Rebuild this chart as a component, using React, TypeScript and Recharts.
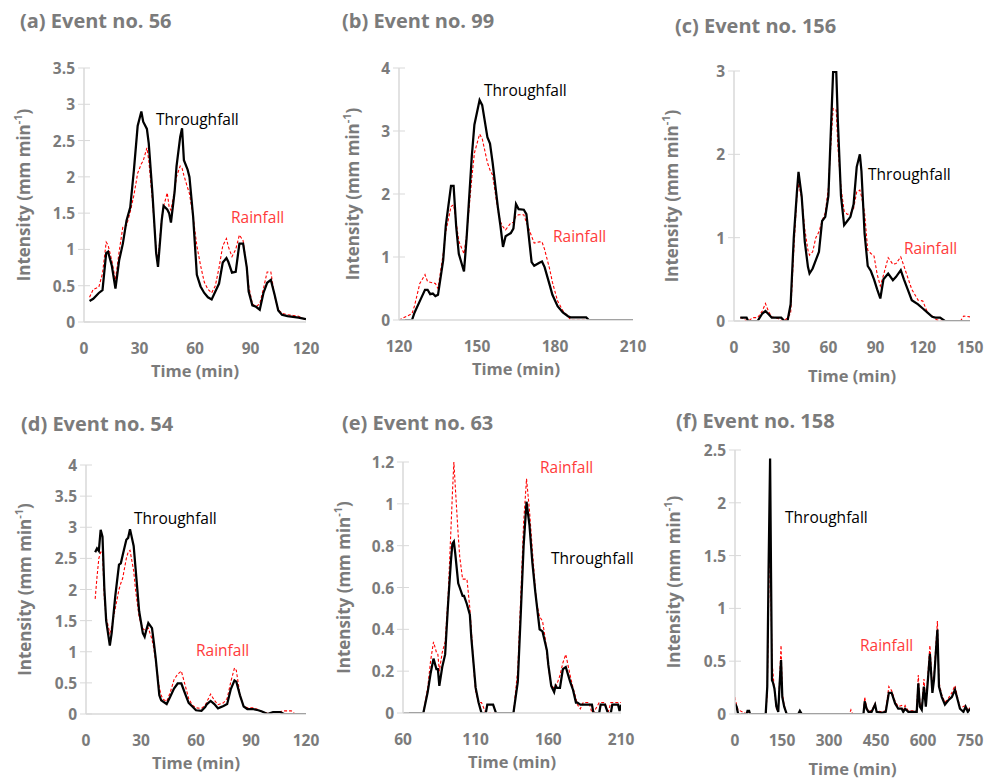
import React from "react"
import { LineChart, Line, XAxis, YAxis } from "recharts"

// (a) Event no. 56
const timeA = [3, 5, 8, 10, 12, 13, 15, 17, 19, 21, 23, 25, 27, 29, 31, 32, 34, 35, 37, 39, 40, 42, 43, 45, 46, 47, 49, 50, 52, 53, 54, 56, 57, 59, 61, 63, 65, 67, 69, 71, 73, 75, 77, 78, 80, 82, 84, 86, 88, 89, 91, 93, 95, 97, 99, 101, 103, 105, 107, 110, 113, 116, 118, 120]
const throughA = [0.29, 0.32, 0.4, 0.44, 0.95, 0.97, 0.78, 0.46, 0.85, 1.08, 1.4, 1.58, 2.1, 2.7, 2.9, 2.76, 2.66, 2.46, 1.77, 0.95, 0.76, 1.4, 1.6, 1.55, 1.5, 1.37, 1.8, 2.14, 2.55, 2.67, 2.23, 2.1, 2.0, 1.45, 0.65, 0.49, 0.4, 0.34, 0.31, 0.42, 0.53, 0.82, 0.88, 0.83, 0.68, 0.69, 1.08, 1.08, 0.75, 0.42, 0.23, 0.21, 0.17, 0.4, 0.54, 0.58, 0.38, 0.16, 0.1, 0.08, 0.07, 0.06, 0.05, 0.04]
const rainA = [0.34, 0.45, 0.48, 0.67, 1.1, 1.06, 0.85, 0.58, 0.97, 1.31, 1.33, 1.52, 1.75, 2.05, 2.18, 2.22, 2.4, 2.23, 1.68, 1.0, 0.85, 1.42, 1.59, 1.78, 1.59, 1.54, 1.82, 2.0, 2.15, 2.12, 2.02, 1.85, 1.77, 1.45, 1.05, 0.78, 0.55, 0.45, 0.4, 0.5, 0.75, 1.05, 1.15, 1.04, 0.9, 1.0, 1.2, 1.12, 0.75, 0.5, 0.25, 0.21, 0.25, 0.46, 0.69, 0.69, 0.36, 0.17, 0.12, 0.1, 0.09, 0.08, 0.05, 0.04]

// (b) Event no. 99
const timeB = [120, 125, 126, 128, 130, 131, 132, 133, 134, 135, 137, 138, 140, 141, 142, 143, 145, 146, 148, 149, 151, 152, 154, 155, 156, 158, 159, 160, 161, 163, 164, 165, 166, 168, 169, 171, 172, 174, 175, 176, 178, 179, 181, 183, 185, 186, 188, 190, 192, 193, 200, 210]
const throughB = [0, 0, 0.12, 0.3, 0.48, 0.48, 0.41, 0.42, 0.38, 0.4, 0.95, 1.5, 2.13, 2.13, 1.48, 1.05, 0.77, 1.3, 2.6, 3.1, 3.49, 3.41, 2.9, 2.8, 2.5, 1.8, 1.5, 1.16, 1.33, 1.38, 1.45, 1.84, 1.76, 1.75, 1.68, 0.92, 0.86, 0.91, 0.93, 0.84, 0.55, 0.4, 0.22, 0.12, 0.06, 0.04, 0.04, 0.04, 0.04, 0, 0, 0]
const rainB = [0, 0.1, 0.23, 0.58, 0.72, 0.61, 0.6, 0.59, 0.58, 0.5, 1.05, 1.4, 1.8, 1.83, 1.55, 1.25, 1.05, 1.35, 2.25, 2.65, 2.95, 2.88, 2.5, 2.38, 2.3, 1.75, 1.56, 1.48, 1.43, 1.54, 1.55, 1.65, 1.67, 1.67, 1.55, 1.33, 1.22, 1.24, 1.24, 1.12, 0.8, 0.6, 0.3, 0.15, 0.06, 0, 0, 0, 0, 0, 0, 0]

// (c) Event no. 156
const timeC = [4, 5, 8, 9, 12, 15, 18, 20, 22, 24, 28, 30, 32, 34, 36, 38, 40, 41, 43, 45, 47, 48, 50, 52, 54, 56, 58, 60, 61, 63, 65, 66, 68, 70, 72, 74, 76, 78, 80, 81, 83, 85, 87, 89, 91, 93, 95, 98, 101, 103, 106, 108, 111, 113, 117, 120, 123, 126, 128, 131, 134, 140, 144, 146, 150]
const throughC = [0.04, 0.04, 0.04, 0, 0, 0, 0.09, 0.12, 0.08, 0.04, 0.04, 0.04, 0, 0, 0.2, 1.0, 1.55, 1.79, 1.5, 0.95, 0.65, 0.57, 0.63, 0.73, 0.83, 1.2, 1.25, 1.5, 2.0, 2.99, 2.99, 2.4, 1.5, 1.15, 1.2, 1.25, 1.4, 1.85, 2.0, 1.8, 1.05, 0.66, 0.6, 0.5, 0.38, 0.27, 0.5, 0.57, 0.49, 0.53, 0.61, 0.5, 0.35, 0.25, 0.2, 0.15, 0.1, 0.05, 0.04, 0.04, 0, 0, 0, 0, 0]
const rainC = [0.04, 0.04, 0, 0, 0.04, 0.04, 0.12, 0.21, 0.11, 0.05, 0.03, 0, 0, 0.04, 0.09, 0.85, 1.5, 1.65, 1.48, 1.1, 0.85, 0.79, 0.83, 1.0, 1.07, 1.2, 1.3, 1.6, 1.95, 2.55, 2.53, 2.1, 1.6, 1.32, 1.28, 1.29, 1.35, 1.55, 1.57, 1.5, 1.3, 0.85, 0.81, 0.78, 0.56, 0.42, 0.55, 0.76, 0.68, 0.69, 0.77, 0.66, 0.49, 0.38, 0.25, 0.24, 0.1, 0.06, 0.02, 0, 0, 0, 0, 0.06, 0.05]

// (d) Event no. 54
const timeD = [5, 6, 7, 8, 9, 10, 11, 13, 14, 16, 18, 19, 20, 22, 23, 24, 26, 27, 29, 31, 32, 33, 34, 36, 37, 38, 40, 41, 42, 44, 46, 48, 50, 52, 54, 56, 58, 60, 63, 65, 66, 68, 70, 72, 75, 77, 79, 81, 82, 84, 86, 88, 91, 94, 96, 99, 102, 106, 108, 110, 112, 114, 120]
const throughD = [2.6, 2.66, 2.62, 2.96, 2.85, 2.02, 1.5, 1.1, 1.3, 1.9, 2.4, 2.42, 2.55, 2.8, 2.83, 2.97, 2.7, 2.35, 1.65, 1.3, 1.24, 1.36, 1.46, 1.38, 1.15, 0.9, 0.3, 0.22, 0.2, 0.16, 0.28, 0.41, 0.49, 0.49, 0.33, 0.18, 0.12, 0.06, 0.05, 0.11, 0.16, 0.21, 0.16, 0.09, 0.13, 0.16, 0.4, 0.54, 0.52, 0.3, 0.12, 0.08, 0.08, 0.06, 0.04, 0, 0.03, 0.03, 0, 0, 0, 0, 0]
const rainD = [1.85, 2.2, 2.5, 2.6, 2.6, 1.86, 1.55, 1.3, 1.4, 1.7, 2.0, 2.1, 2.18, 2.5, 2.6, 2.63, 2.3, 2.0, 1.55, 1.37, 1.35, 1.36, 1.38, 1.2, 1.05, 0.85, 0.42, 0.3, 0.24, 0.2, 0.35, 0.55, 0.64, 0.69, 0.47, 0.25, 0.14, 0.1, 0.09, 0.14, 0.2, 0.32, 0.22, 0.15, 0.18, 0.25, 0.52, 0.74, 0.7, 0.3, 0.12, 0.1, 0.1, 0.07, 0.04, 0.01, 0.02, 0.04, 0.05, 0.05, 0.05, 0, 0]

// (e) Event no. 63
const timeE = [60, 74, 77, 79, 81, 83, 84, 85, 87, 89, 91, 93, 94, 95, 96, 98, 99, 101, 102, 104, 106, 107, 109, 110, 112, 114, 117, 118, 122, 124, 136, 139, 141, 143, 145, 147, 149, 151, 152, 154, 156, 158, 159, 160, 162, 164, 165, 166, 168, 170, 172, 175, 177, 179, 180, 182, 184, 188, 190, 191, 195, 196, 199, 201, 203, 204, 208, 209, 210]
const throughE = [0, 0, 0.1, 0.19, 0.26, 0.21, 0.21, 0.13, 0.22, 0.28, 0.52, 0.73, 0.81, 0.82, 0.76, 0.62, 0.6, 0.56, 0.56, 0.52, 0.47, 0.36, 0.2, 0.12, 0.05, 0, 0, 0.04, 0.04, 0, 0, 0.15, 0.47, 0.8, 1.01, 0.9, 0.72, 0.58, 0.52, 0.4, 0.39, 0.33, 0.3, 0.23, 0.13, 0.1, 0.13, 0.12, 0.12, 0.21, 0.22, 0.15, 0.11, 0.05, 0.05, 0.04, 0.04, 0.04, 0.04, 0, 0, 0.04, 0.04, 0, 0, 0.04, 0.04, 0.01, 0.04]
const rainE = [0, 0, 0.12, 0.25, 0.34, 0.29, 0.28, 0.2, 0.29, 0.34, 0.55, 0.88, 1.05, 1.2, 1.08, 0.85, 0.75, 0.64, 0.64, 0.64, 0.5, 0.4, 0.18, 0.1, 0.05, 0.05, 0, 0, 0, 0, 0, 0.21, 0.55, 0.91, 1.12, 0.97, 0.78, 0.6, 0.52, 0.46, 0.44, 0.35, 0.28, 0.22, 0.13, 0.12, 0.12, 0.14, 0.18, 0.24, 0.28, 0.18, 0.12, 0.07, 0.04, 0.02, 0.05, 0.05, 0, 0, 0.05, 0.05, 0.05, 0, 0.05, 0.05, 0.05, 0.05, 0.05]

// (f) Event no. 158
const timeF = [0, 5, 10, 37, 40, 45, 48, 98, 103, 107, 112, 115, 118, 121, 126, 132, 138, 142, 147, 151, 157, 165, 202, 207, 213, 365, 370, 375, 410, 414, 420, 426, 436, 447, 452, 468, 481, 491, 500, 511, 521, 532, 537, 543, 553, 564, 580, 585, 590, 596, 603, 609, 614, 622, 630, 635, 640, 646, 651, 660, 670, 681, 692, 702, 711, 718, 729, 736, 743, 750]
const throughF = [0.1, 0.07, 0, 0, 0.03, 0.03, 0, 0, 0.26, 1.33, 2.42, 1.33, 0.32, 0.3, 0.24, 0.07, 0.02, 0.26, 0.51, 0.16, 0.07, 0, 0, 0.03, 0, 0, 0, 0, 0, 0.12, 0.05, 0.02, 0.02, 0.09, 0.02, 0.01, 0.02, 0.2, 0.2, 0.1, 0.05, 0.05, 0.02, 0.05, 0.02, 0.02, 0.02, 0.29, 0.07, 0.04, 0.26, 0.07, 0.26, 0.57, 0.2, 0.32, 0.54, 0.8, 0.26, 0.16, 0.09, 0.13, 0.16, 0.23, 0.13, 0.05, 0.02, 0.07, 0.02, 0.05]
const rainF = [0.16, 0.08, 0.04, 0, 0, 0.02, 0, 0, 0.2, 1.0, 1.9, 1.1, 0.5, 0.4, 0.22, 0.05, 0.03, 0.3, 0.65, 0.2, 0.08, 0, 0, 0.02, 0, 0, 0.04, 0, 0, 0.16, 0.06, 0.03, 0.03, 0.1, 0.03, 0.02, 0.03, 0.26, 0.22, 0.12, 0.07, 0.08, 0.04, 0.08, 0.03, 0.03, 0.03, 0.37, 0.1, 0.05, 0.33, 0.1, 0.3, 0.65, 0.25, 0.35, 0.6, 0.88, 0.3, 0.18, 0.11, 0.15, 0.2, 0.27, 0.15, 0.06, 0.07, 0.08, 0.04, 0.06]

const GRAY = "#7b7b7b"
const AXIS = "#d9d9d9"
const RED = "#ff0000"
const FONT = "'Open Sans', 'Noto Sans', sans-serif"

const panels = [
  { title: "(a) Event no. 56", time: timeA, tf: throughA, rf: rainA, xDomain: [0, 120], xTicks: [0, 30, 60, 90, 120], yDomain: [0, 3.5], yTicks: [0, 0.5, 1, 1.5, 2, 2.5, 3, 3.5],
    left: 0, box: { x0: 84, y0: 68, x1: 306, y1: 322 }, titlePos: [20, 20], yLabelX: 23, xLabelDy: 48, tfPos: [156, 119], rfPos: [231, 217] },
  { title: "(b) Event no. 99", time: timeB, tf: throughB, rf: rainB, xDomain: [120, 210], xTicks: [120, 150, 180, 210], yDomain: [0, 4], yTicks: [0, 1, 2, 3, 4],
    left: 330, box: { x0: 399, y0: 68, x1: 633, y1: 320 }, titlePos: [342, 20], yLabelX: 352, xLabelDy: 48, tfPos: [484, 90], rfPos: [553, 236] },
  { title: "(c) Event no. 156", time: timeC, tf: throughC, rf: rainC, xDomain: [0, 150], xTicks: [0, 30, 60, 90, 120, 150], yDomain: [0, 3], yTicks: [0, 1, 2, 3],
    left: 657, box: { x0: 734, y0: 71, x1: 970, y1: 321 }, titlePos: [675, 25], yLabelX: 671, xLabelDy: 54, tfPos: [868, 174], rfPos: [904, 248] },
  { title: "(d) Event no. 54", time: timeD, tf: throughD, rf: rainD, xDomain: [0, 120], xTicks: [0, 30, 60, 90, 120], yDomain: [0, 4], yTicks: [0, 0.5, 1, 1.5, 2, 2.5, 3, 3.5, 4],
    left: 0, box: { x0: 86, y0: 465, x1: 306, y1: 714 }, titlePos: [21, 423], yLabelX: 24, xLabelDy: 48, tfPos: [134, 518], rfPos: [196, 650] },
  { title: "(e) Event no. 63", time: timeE, tf: throughE, rf: rainE, xDomain: [60, 210], xTicks: [60, 110, 160, 210], yDomain: [0, 1.2], yTicks: [0, 0.2, 0.4, 0.6, 0.8, 1, 1.2],
    left: 330, box: { x0: 403, y0: 462, x1: 621, y1: 713 }, titlePos: [342, 422], yLabelX: 343, xLabelDy: 48, tfPos: [551, 558], rfPos: [540, 467] },
  { title: "(f) Event no. 158", time: timeF, tf: throughF, rf: rainF, xDomain: [0, 750], xTicks: [0, 150, 300, 450, 600, 750], yDomain: [0, 2.5], yTicks: [0, 0.5, 1, 1.5, 2, 2.5],
    left: 657, box: { x0: 735, y0: 450, x1: 970, y1: 714 }, titlePos: [676, 420], yLabelX: 673, xLabelDy: 54, tfPos: [785, 517], rfPos: [860, 645] },
]

const fmt = (v: number) => String(Math.round(v * 100) / 100)

function Panel({ p }: { p: any }) {
  const data = p.time.map((t: number, i: number) => ({ t, tf: p.tf[i], rf: p.rf[i] }))
  const { x0, y0, x1, y1 } = p.box
  const top = y0 - 20
  const width = x1 + 15 - p.left
  const height = y1 + 62 - top
  const axisX = x0 - p.left
  const axisY = 20 + (y1 - y0)

  const xTick = (props: any) => (
    <text x={props.payload.coordinate} y={axisY + 26} textAnchor="middle" dominantBaseline="central"
      fill={GRAY} fontSize={15.5} fontWeight={700} fontFamily={FONT}>{fmt(props.payload.value)}</text>
  )
  const yTick = (props: any) => (
    <g>
      <line x1={axisX - 6} x2={axisX + 6} y1={props.y} y2={props.y} stroke={AXIS} strokeWidth={1} />
      <text x={axisX - 9} y={props.y} textAnchor="end" dominantBaseline="central"
        fill={GRAY} fontSize={15.5} fontWeight={700} fontFamily={FONT}>{fmt(props.payload.value)}</text>
    </g>
  )

  return (
    <div style={{ position: "absolute", left: p.left, top }}>
      <LineChart width={width} height={height} data={data} margin={{ top: 20, right: 15, bottom: 2, left: 0 }}>
        <XAxis type="number" dataKey="t" domain={p.xDomain} ticks={p.xTicks} interval={0} allowDataOverflow
          height={60} axisLine={{ stroke: AXIS, strokeWidth: 1.5 }} tickLine={false} tick={xTick} />
        <YAxis type="number" domain={p.yDomain} ticks={p.yTicks} interval={0} allowDataOverflow
          width={axisX} axisLine={{ stroke: AXIS, strokeWidth: 1.5 }} tickLine={false} tick={yTick} />
        <Line type="linear" dataKey="rf" stroke={RED} strokeWidth={1.1} strokeDasharray="3 2" dot={false} isAnimationActive={false} />
        <Line type="linear" dataKey="tf" stroke="#000000" strokeWidth={2.25} dot={false} isAnimationActive={false} />
      </LineChart>
    </div>
  )
}

export default function App() {
  return (
    <div style={{ position: "absolute", left: 0, top: 0, width: 987, height: 780, background: "#fff", overflow: "hidden", fontFamily: FONT }}>
      {panels.map((p) => <Panel key={p.title} p={p} />)}
      <svg width={987} height={780} style={{ position: "absolute", left: 0, top: 0, pointerEvents: "none" }}>
        {panels.map((p) => {
          const cy = (p.box.y0 + p.box.y1) / 2
          const cx = (p.box.x0 + p.box.x1) / 2
          return (
            <g key={p.title} fontFamily={FONT}>
              <text x={p.titlePos[0]} y={p.titlePos[1]} dominantBaseline="central" fill={GRAY} fontSize={20} fontWeight={700}>{p.title}</text>
              <text transform={`translate(${p.yLabelX},${cy}) rotate(-90)`} textAnchor="middle" dominantBaseline="central"
                fill={GRAY} fontSize={17} fontWeight={700}>
                Intensity (mm min<tspan dy={-6} fontSize={11}>-1</tspan><tspan dy={6}>)</tspan>
              </text>
              <text x={cx} y={p.box.y1 + p.xLabelDy} textAnchor="middle" dominantBaseline="central"
                fill={GRAY} fontSize={16.5} fontWeight={700}>Time (min)</text>
              <text x={p.tfPos[0]} y={p.tfPos[1]} dominantBaseline="central" fill="#000" fontSize={15.5}>Throughfall</text>
              <text x={p.rfPos[0]} y={p.rfPos[1]} dominantBaseline="central" fill="#ff3b3b" fontSize={15.5}>Rainfall</text>
            </g>
          )
        })}
      </svg>
    </div>
  )
}
